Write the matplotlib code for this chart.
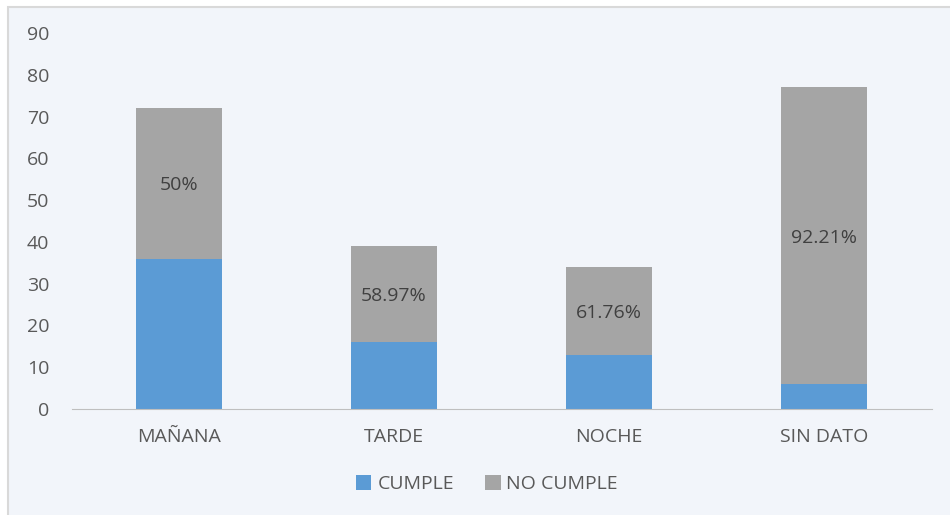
import matplotlib
matplotlib.use('Agg')
import matplotlib.pyplot as plt
from matplotlib.patches import Rectangle
import numpy as np

plt.rcParams['font.family'] = ['Open Sans', 'DejaVu Sans']

turnos = ['MAÑANA', 'TARDE', 'NOCHE', 'SIN DATO']
cumple = [36, 16, 13, 6]
no_cumple = [36, 23, 21, 71]
yticks = list(range(0, 100, 10))

bg = '#F2F5FA'
txt = '#595959'
fs = 14

fig = plt.figure(figsize=(9.5, 5.15), dpi=100)
fig.patch.set_facecolor('white')
# marco del grafico
fig.patches.append(Rectangle((8 / 950, -0.1), 1.0, 1 - 7 / 515 + 0.1, transform=fig.transFigure,
                             facecolor=bg, edgecolor='#D9D9D9', linewidth=1.5, zorder=-5))

ax = fig.add_axes([71.5 / 950, 1 - 409 / 515, 860 / 950, (409 - 33) / 515])
ax.set_facecolor(bg)

x = np.arange(len(turnos))
b1 = ax.bar(x, cumple, 0.4, color='#5B9BD5', label='CUMPLE')
b2 = ax.bar(x, no_cumple, 0.4, bottom=cumple, color='#A5A5A5', label='NO CUMPLE')

# porcentaje de NO CUMPLE sobre el total de cada turno
for i in range(len(turnos)):
    total = cumple[i] + no_cumple[i]
    pct = no_cumple[i] / total * 100
    lab = '%d%%' % pct if pct == int(pct) else '%.2f%%' % pct
    ax.text(x[i], cumple[i] + no_cumple[i] / 2, lab, ha='center', va='center_baseline',
            fontsize=fs, color='#404040')

ax.set_xlim(-0.5, 3.5)
ax.set_ylim(0, 90)
ax.set_yticks(yticks)
ax.set_xticks(x)
ax.set_xticklabels(turnos)
ax.tick_params(axis='both', length=0, labelsize=fs, colors=txt)
ax.tick_params(axis='y', pad=16)
ax.tick_params(axis='x', pad=14)
for s in ['top', 'right', 'left']:
    ax.spines[s].set_visible(False)
ax.spines['bottom'].set_color('#BFBFBF')

fig.legend(handles=[b1, b2], loc='center', bbox_to_anchor=(487 / 950, 1 - 484 / 515), ncol=2,
           frameon=False, fontsize=fs, handlelength=0.8, handleheight=0.8,
           handletextpad=0.3, columnspacing=1.6, labelcolor=txt)

fig.savefig('out.png', dpi=100, facecolor=fig.get_facecolor())
